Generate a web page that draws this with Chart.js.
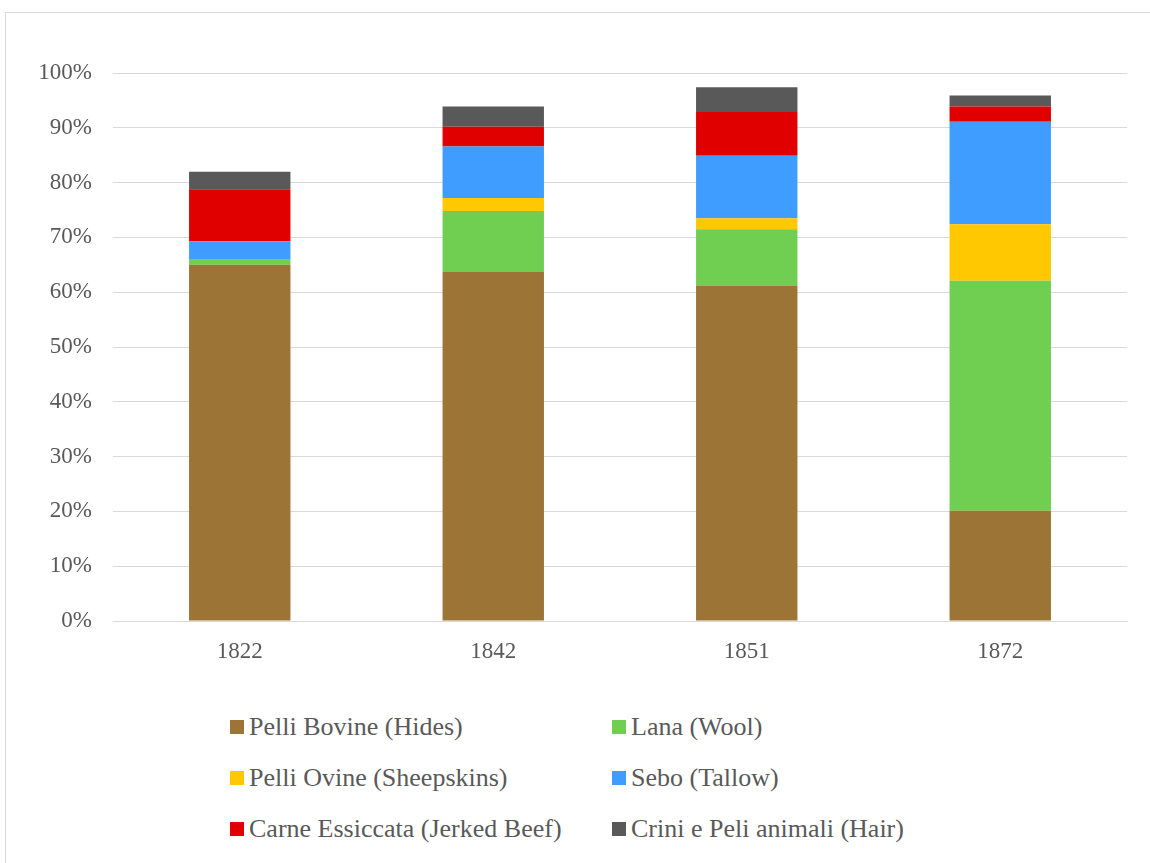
<!DOCTYPE html>
<html>
<head>
<meta charset="utf-8">
<script src="https://cdn.jsdelivr.net/npm/chart.js@4/dist/chart.umd.min.js"></script>
<style>
    body { margin: 0; background: #fff; width: 1150px; height: 863px; overflow: hidden; position: relative; }
    #frame { position: absolute; left: 5px; top: 12px; width: 1200px; height: 900px; border: 1px solid #d9d9d9; }
    #chart { position: absolute; left: 0; top: 0; }
    #legend { position: absolute; left: 230px; top: 704px; font-family: 'Liberation Serif', 'Times New Roman', Times, 'DejaVu Serif', serif;
              font-size: 26px; color: #595959; display: grid; grid-template-columns: 382px 400px; grid-auto-rows: 51px; }
    .item { display: flex; align-items: center; height: 46px; white-space: nowrap; }
    .box { width: 14px; height: 14px; margin-right: 5px; flex: none; }
</style>
</head>
<body>
<div id="frame"></div>
<canvas id="chart" width="1150" height="680"></canvas>
<div id="legend"></div>
<script>
const years = ['1822', '1842', '1851', '1872'];

const hides = [65.0, 63.7, 61.2, 20.1];
const wool = [0.9, 11.1, 10.3, 42.0];
const sheepskins = [0, 2.4, 2.0, 10.3];
const tallow = [3.4, 9.4, 11.4, 18.7];
const jerkedBeef = [9.5, 3.6, 8.0, 2.8];
const hair = [3.2, 3.7, 4.5, 2.0];

const seriesNames = ['Pelli Bovine (Hides)', 'Lana (Wool)', 'Pelli Ovine (Sheepskins)',
    'Sebo (Tallow)', 'Carne Essiccata (Jerked Beef)', 'Crini e Peli animali (Hair)'];
const seriesValues = [hides, wool, sheepskins, tallow, jerkedBeef, hair];
const seriesColors = ['#9b7436', '#70cf50', '#ffc800', '#3e9dfe', '#e00000', '#595959'];

const textColor = '#595959';
const serif = "'Liberation Serif', 'Times New Roman', Times, 'DejaVu Serif', serif";

const ctx = document.getElementById('chart').getContext('2d');
const chart = new Chart(ctx, {
    type: 'bar',
    data: {
        labels: years,
        datasets: seriesNames.map((name, i) => ({
            label: name,
            data: seriesValues[i],
            backgroundColor: seriesColors[i],
            borderWidth: 0,
            barPercentage: 0.4,
            categoryPercentage: 1.0
        }))
    },
    options: {
        responsive: false,
        animation: false,
        layout: { padding: { left: 0, right: 23, top: 73, bottom: 0 } },
        plugins: {
            legend: { display: false },
            tooltip: { enabled: false }
        },
        scales: {
            x: {
                stacked: true,
                grid: { display: false, drawTicks: false },
                border: { color: '#d9d9d9', width: 1 },
                ticks: { color: textColor, font: { family: serif, size: 23 }, padding: 17 },
                afterFit: scale => { scale.height = 59; }
            },
            y: {
                stacked: true,
                min: 0,
                max: 100,
                grid: { color: '#d9d9d9', lineWidth: 1, drawTicks: false },
                border: { display: false },
                ticks: {
                    stepSize: 10,
                    color: textColor,
                    font: { family: serif, size: 23 },
                    padding: 21,
                    callback: v => v + '%'
                },
                afterFit: scale => { scale.width = 113; }
            }
        }
    }
});

// legend in two columns, like the original
const legend = document.getElementById('legend');
chart.data.datasets.forEach(ds => {
    const item = document.createElement('div');
    item.className = 'item';
    const box = document.createElement('span');
    box.className = 'box';
    box.style.background = ds.backgroundColor;
    item.appendChild(box);
    item.appendChild(document.createTextNode(ds.label));
    legend.appendChild(item);
});
</script>
</body>
</html>
